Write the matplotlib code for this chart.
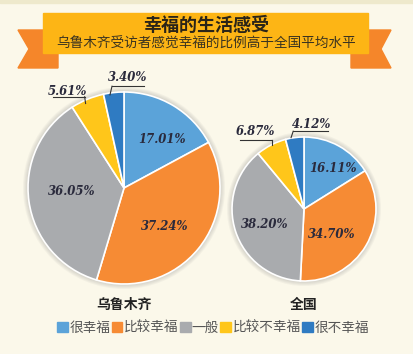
import matplotlib
matplotlib.use("Agg")
import matplotlib.pyplot as plt
from matplotlib.patches import Rectangle, Polygon, Circle

plt.rcParams['font.family'] = ['Noto Sans CJK SC', 'DejaVu Sans']

# data
categories = ['很幸福', '比较幸福', '一般', '比较不幸福', '很不幸福']
urumqi = [17.01, 37.24, 36.05, 5.61, 3.40]
national = [16.11, 34.70, 38.20, 6.87, 4.12]
group_names = ['乌鲁木齐', '全国']
colors = ['#5ba3d9', '#f68b34', '#a9abae', '#ffc61a', '#2f7bc2']

W, H = 414, 354
bg = '#fbf8ea'
fig = plt.figure(figsize=(W / 100, H / 100), dpi=100, facecolor=bg)

# overlay in pixel coords for decorations
deco = fig.add_axes([0, 0, 1, 1])
deco.set_xlim(0, W)
deco.set_ylim(H, 0)
deco.axis('off')
deco.add_patch(Rectangle((0, 0), W, 3, color='#eee9cc'))
deco.add_patch(Polygon([(18, 30), (58, 30), (58, 68), (18, 68), (29, 49)], color='#f5862a'))
deco.add_patch(Polygon([(351, 30), (391, 30), (381, 49), (391, 68), (351, 68)], color='#f5862a'))
deco.add_patch(Rectangle((43, 13), 325, 40, color='#fdb515'))
deco.text(206, 25, '幸福的生活感受', fontsize=13, fontweight='bold',
          ha='center', va='center', color='#2a2418')
deco.text(206, 44, '乌鲁木齐受访者感觉幸福的比例高于全国平均水平', fontsize=9.8,
          ha='center', va='center', color='#3a3320')

pct_font = dict(family='DejaVu Serif', style='italic', fontweight='bold',
                fontsize=8.4, color='#2a2a3c')

# pie layout: centre (px), radius (px), label spots in radius units
pies = [
    dict(vals=urumqi, cx=124, cy=188, r=96,
         big=[(0.40, 0.51), (0.42, -0.40), (-0.54, -0.04)],
         small=[((-0.59, 1.01), (-0.74, -0.41, 0.95), (-0.41, 0.95, -0.40, 0.88)),
                ((0.04, 1.15), (-0.125, 0.21, 1.06), (-0.125, 1.06, -0.146, 0.97))]),
    dict(vals=national, cx=304, cy=209, r=72,
         big=[(0.40, 0.56), (0.39, -0.36), (-0.54, -0.21)],
         small=[((-0.68, 1.07), (-0.89, -0.44, 0.96), (-0.44, 0.96, -0.44, 0.89)),
                ((0.10, 1.18), (-0.15, 0.33, 1.08), (-0.15, 1.08, -0.18, 0.99))]),
]

for p, name in zip(pies, group_names):
    ax = fig.add_axes([(p['cx'] - p['r']) / W, (H - p['cy'] - p['r']) / H,
                       2 * p['r'] / W, 2 * p['r'] / H])
    ax.set_xlim(-1, 1)
    ax.set_ylim(-1, 1)
    ax.axis('off')
    # soft shadow
    for k in range(5):
        ax.add_patch(Circle((0, 0), 1 + (k + 1) * 1.0 / p['r'], color='#888888',
                            alpha=0.07, lw=0, clip_on=False))
    ax.pie(p['vals'], colors=colors, startangle=90, counterclock=False, radius=1,
           wedgeprops=dict(edgecolor='white', linewidth=1.2))
    ax.set_xlim(-1, 1)
    ax.set_ylim(-1, 1)
    ax.set_aspect('auto')
    for (x, y), v in zip(p['big'], p['vals'][:3]):
        ax.text(x, y, f'{v:.2f}%', ha='center', va='center', **pct_font)
    for ((tx, ty), (ux0, ux1, uy), (lx0, ly0, lx1, ly1)), v in zip(p['small'], p['vals'][3:]):
        ax.text(tx, ty, f'{v:.2f}%', ha='center', va='center', **pct_font)
        ax.plot([ux0, ux1], [uy, uy], color='#333333', lw=0.8, clip_on=False)
        ax.plot([lx0, lx1], [ly0, ly1], color='#333333', lw=0.8, clip_on=False)
    deco.text(p['cx'], 305, name, fontsize=10, fontweight='bold',
              ha='center', va='center', color='#222222')

handles = [Rectangle((0, 0), 1, 1, color=c) for c in colors]
leg = fig.legend(handles, categories, ncol=5, loc='center', bbox_to_anchor=(213 / W, 1 - 328 / H),
                 frameon=False, fontsize=9.8, handlelength=0.8, handleheight=0.8,
                 handletextpad=0.1, columnspacing=0.1, borderpad=0)
for t in leg.get_texts():
    t.set_color('#555555')

fig.savefig('out.png', dpi=100, facecolor=bg)
